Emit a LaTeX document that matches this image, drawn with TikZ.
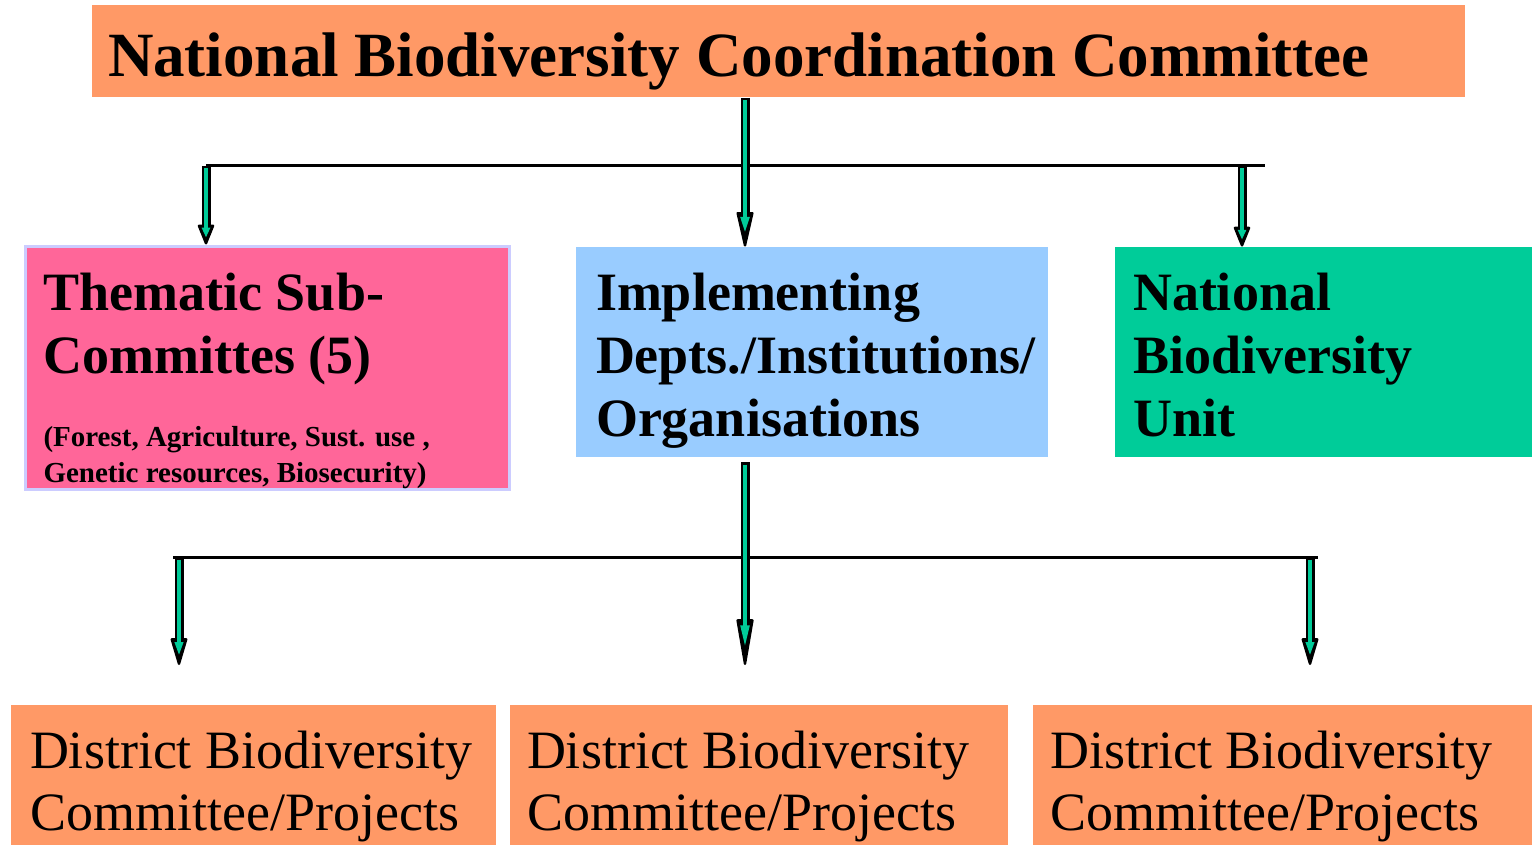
\documentclass[tikz,border=0pt]{standalone}
\usepackage{fontspec}
\setmainfont{Liberation Serif}
\usetikzlibrary{arrows.meta}

\definecolor{boxorange}{HTML}{FF9966}
\definecolor{boxpink}{HTML}{FF6699}
\definecolor{boxblue}{HTML}{99CCFF}
\definecolor{boxgreen}{HTML}{00CC99}
\definecolor{boxlilac}{HTML}{CCCCFF}

\tikzstyle{box} = [anchor=center, align=flush left, inner ysep=0pt]
\tikzstyle{head} = [font=\fontsize{31.5}{40}\bfseries\selectfont]
\tikzstyle{unit} = [font=\fontsize{27}{31.5}\bfseries\selectfont]
\tikzstyle{district} = [font=\fontsize{27}{31}\selectfont, fill=boxorange, box,
	text height=31.5pt, text depth=38.5pt]
\tikzstyle{bus} = [line width=1.5pt]
% hollow arrow: black outline, green core; #1 outer tip length, #2 core set-back, #3 core tip length
\tikzset{flow/.style n args={3}{line width=4.5pt,
	-{Triangle[length=#1,width=8.5pt,line width=1.2pt,round]},
	postaction={draw=boxgreen, line width=2.2pt, shorten <=1.25pt, shorten >=#2,
		-{Triangle[length=#3,width=4pt]}}}}

\begin{document}
\begin{tikzpicture}[x=0.5pt,y=-0.5pt]
	\useasboundingbox (0,0) rectangle (1534,845);

	\node[box,head,fill=boxorange,text height=36pt,text depth=10pt,inner xsep=8pt,text width=670.5pt]
		(ncc) at (778.5,51) {National Biodiversity Coordination Committee};

	\node[box,unit,fill=boxpink,draw=boxlilac,line width=1.5pt,text height=32pt,text depth=89.5pt,
		inner xsep=9pt,text width=224pt] (sub) at (267.5,367.5)
		{Thematic Sub-\\Committes (5)\par\vspace{18.5pt}
		\fontsize{14.5}{18}\bfseries\selectfont (Forest, Agriculture, Sust. use ,\\Genetic resources, Biosecurity)\par};
	\node[box,unit,fill=boxblue,text height=31.5pt,text depth=73.5pt,inner xsep=10pt,text width=216pt]
		(impl) at (812,352) {Implementing\\Depts./Institutions/\\Organisations};
	\node[box,unit,fill=boxgreen,text height=31.5pt,text depth=73.5pt,inner xsep=9pt,text width=190.5pt]
		(nbu) at (1323.5,352) {National\\Biodiversity\\Unit};

	\node[district,inner xsep=9.5pt,text width=223.5pt] (d1) at (253.5,775)
		{District Biodiversity\\Committee/Projects};
	\node[district,inner xsep=8.5pt,text width=232pt] (d2) at (759,775)
		{District Biodiversity\\Committee/Projects};
	\node[district,inner xsep=8.5pt,text width=232.5pt] (d3) at (1282.5,775)
		{District Biodiversity\\Committee/Projects};

	% upper branch
	\coordinate (top) at (745,98);
	\coordinate (tl) at (206,166);
	\coordinate (tr) at (1265,166);
	\coordinate (tu) at (1242,166);
	\draw[bus] (tl) -- (tr);
	\draw[flow={19.5pt}{5.9pt}{9pt}] (top) -- (top |- impl.north);
	\draw[flow={11pt}{3.5pt}{4.9pt}] (tl) -- (tl |- sub.north);
	\draw[flow={11pt}{3.5pt}{4.9pt}] (tu) -- (tu |- nbu.north);

	% lower branch
	\coordinate (mid) at (745,462);
	\coordinate (bl) at (173,557);
	\coordinate (br) at (1318,557);
	\coordinate (bu) at (179,557);
	\coordinate (bv) at (1310,557);
	\coordinate (e1) at (179,665);
	\coordinate (e2) at (745,665);
	\coordinate (e3) at (1310,665);
	\draw[bus] (bl) -- (br);
	\draw[flow={26pt}{7.8pt}{12pt}] (mid) -- (e2);
	\draw[flow={15pt}{4.6pt}{6.9pt}] (bu) -- (e1);
	\draw[flow={15pt}{4.6pt}{6.9pt}] (bv) -- (e3);
\end{tikzpicture}
\end{document}
